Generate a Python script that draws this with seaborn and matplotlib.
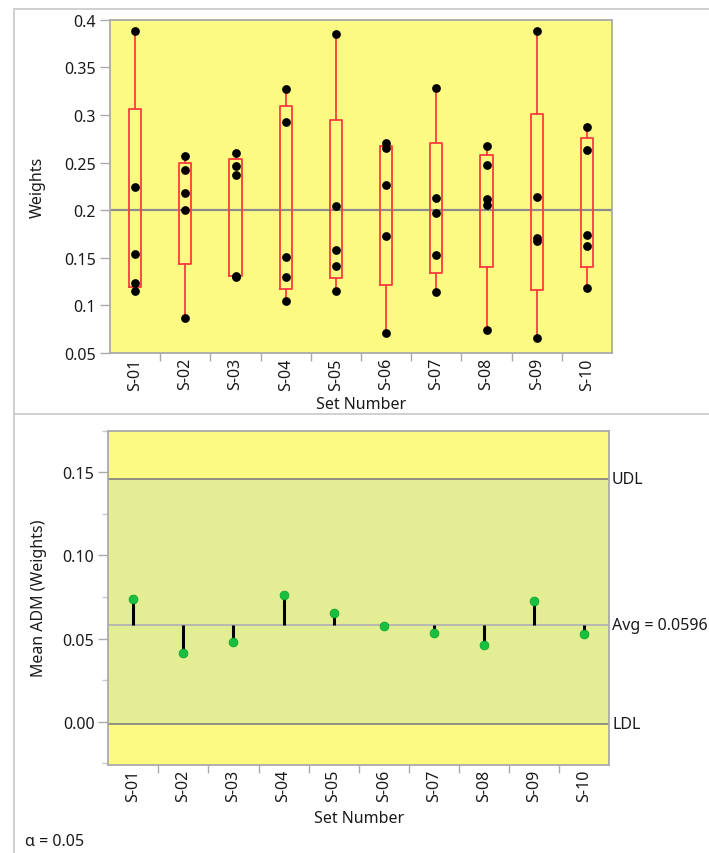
import numpy as np
import pandas as pd
import matplotlib
matplotlib.use("Agg")
import matplotlib.pyplot as plt
from matplotlib.lines import Line2D
import seaborn as sns

# ---------------- data ----------------
sets = ["S-01", "S-02", "S-03", "S-04", "S-05", "S-06", "S-07", "S-08", "S-09", "S-10"]
w_s01 = [0.3885, 0.2240, 0.1537, 0.1239, 0.1151]
w_s02 = [0.2572, 0.2419, 0.2184, 0.2002, 0.0871]
w_s03 = [0.2597, 0.2467, 0.2373, 0.1312, 0.1296]
w_s04 = [0.3269, 0.2923, 0.1508, 0.1302, 0.1043]
w_s05 = [0.3850, 0.2041, 0.1585, 0.1417, 0.1148]
w_s06 = [0.2702, 0.2653, 0.2268, 0.1729, 0.0707]
w_s07 = [0.3283, 0.2125, 0.1974, 0.1533, 0.1138]
w_s08 = [0.2674, 0.2474, 0.2114, 0.2051, 0.0745]
w_s09 = [0.3878, 0.2138, 0.1708, 0.1673, 0.0655]
w_s10 = [0.2873, 0.2632, 0.1739, 0.1624, 0.1183]
weights = [w_s01, w_s02, w_s03, w_s04, w_s05, w_s06, w_s07, w_s08, w_s09, w_s10]
grand_mean = 0.2

mean_adm = [0.0740, 0.0412, 0.0478, 0.0761, 0.0656, 0.0576, 0.0536, 0.0460, 0.0725, 0.0528]
center_line = 0.0582
avg_label = "Avg = 0.0596"
udl = 0.1458
ldl = -0.0012
alpha_text = "α = 0.05"

y1_ticks = [0.05, 0.1, 0.15, 0.2, 0.25, 0.3, 0.35, 0.4]
y1_labels = ["0.05", "0.1", "0.15", "0.2", "0.25", "0.3", "0.35", "0.4"]
y2_ticks = [0.0, 0.05, 0.10, 0.15]
y2_labels = ["0.00", "0.05", "0.10", "0.15"]
y2_minor = [-0.025, 0.025, 0.075, 0.125, 0.175]

# ---------------- style ----------------
sns.set_theme(style="white")
plt.rcParams["font.family"] = ["Noto Sans", "DejaVu Sans"]
plt.rcParams["font.size"] = 10

YELLOW = "#FDFA84"
GREENY = "#E3EE94"
SPINE = "#AAAAAA"
TXT = "#1a1a1a"
FS = 11.5

fig = plt.figure(figsize=(7.09, 8.54), dpi=100)
W, H = 709, 854

def frac(x0, y0, x1, y1):
    return [x0 / W, 1 - y1 / H, (x1 - x0) / W, (y1 - y0) / H]

ax1 = fig.add_axes(frac(110, 20.7, 612, 354))
ax2 = fig.add_axes(frac(108.3, 431.5, 609, 765.7))

# frame decoration (JMP outline)
for ln in [
    Line2D([14 / W, 14 / W], [0, 1 - 10 / H]),
    Line2D([14 / W, 1], [1 - 10 / H, 1 - 10 / H]),
    Line2D([14 / W, 1], [1 - 415 / H, 1 - 415 / H]),
]:
    ln.set_color("#C8C8C8")
    ln.set_linewidth(1.2)
    ln.set_transform(fig.transFigure)
    fig.add_artist(ln)

# ---------------- top panel ----------------
df = pd.DataFrame({
    "Set Number": np.repeat(sets, [len(w) for w in weights]),
    "Weights": np.concatenate(weights),
})

ax1.set_facecolor(YELLOW)
stats = []
for name, w in zip(sets, weights):
    arr = np.asarray(w)
    q1, med, q3 = np.percentile(arr, [25, 50, 75], method="weibull")
    stats.append(dict(label=name, med=med, q1=q1, q3=q3,
                      whislo=arr.min(), whishi=arr.max(), fliers=[]))
ax1.bxp(stats, positions=range(len(sets)), widths=0.24, showfliers=False,
        showcaps=False, patch_artist=False,
        boxprops=dict(color="#FF3B3B", linewidth=1.3),
        whiskerprops=dict(color="#FF3B3B", linewidth=1.3),
        medianprops=dict(linewidth=0),
        zorder=2)
ax1.axhline(grand_mean, color="#8C8C8C", linewidth=1.6, zorder=1.5)
sns.stripplot(data=df, x="Set Number", y="Weights", order=sets, jitter=False,
              color="black", size=6.3, linewidth=0, ax=ax1, zorder=3)

ax1.set_xlim(-0.5, len(sets) - 0.5)
ax1.set_ylim(0.05, 0.4)
ax1.set_yticks(y1_ticks)
ax1.set_yticklabels(y1_labels)

# ---------------- bottom panel ----------------
ax2.set_facecolor(YELLOW)
ax2.axhspan(ldl, udl, color=GREENY, zorder=0, linewidth=0)
ax2.axhline(udl, color="#7F7F7F", linewidth=1.2, zorder=1)
ax2.axhline(ldl, color="#7F7F7F", linewidth=1.2, zorder=1)
ax2.axhline(center_line, color="#B4B4B4", linewidth=1.3, zorder=1)
xpos = np.arange(len(sets))
ax2.vlines(xpos, center_line, mean_adm, color="black", linewidth=2.2, zorder=2)
adm_df = pd.DataFrame({"Set Number": sets, "Mean ADM": mean_adm})
sns.scatterplot(data=adm_df, x=xpos, y="Mean ADM", color="#19C040",
                edgecolor="#0FA832", linewidth=0.6, s=40, ax=ax2, zorder=3)

ax2.set_xlim(-0.5, len(sets) - 0.5)
ax2.set_ylim(-0.0258, 0.1743)
ax2.set_yticks(y2_ticks)
ax2.set_yticklabels(y2_labels)
ax2.set_yticks(y2_minor, minor=True)

ax2.text(1.006, udl, "UDL", transform=ax2.get_yaxis_transform(), va="center",
         ha="left", fontsize=FS, color=TXT)
ax2.text(1.006, center_line, avg_label, transform=ax2.get_yaxis_transform(),
         va="center", ha="left", fontsize=FS, color=TXT)
ax2.text(1.006, ldl, "LDL", transform=ax2.get_yaxis_transform(), va="center",
         ha="left", fontsize=FS, color=TXT)
fig.text(25 / W, 1 - 842 / H, alpha_text, fontsize=FS, color=TXT,
         ha="left", va="center")

# ---------------- shared axis styling ----------------
for ax, ylabel in [(ax1, "Weights"), (ax2, "Mean ADM (Weights)")]:
    for sp in ax.spines.values():
        sp.set_color(SPINE)
        sp.set_linewidth(1.3)
    ax.set_xticks(np.arange(len(sets)))
    ax.set_xticklabels(sets, rotation=90, fontsize=FS, color=TXT)
    ax.set_xticks(np.arange(len(sets) - 1) + 0.5, minor=True)
    ax.tick_params(axis="x", which="major", length=0, pad=3)
    ax.tick_params(axis="x", which="minor", length=6, width=1, color=SPINE,
                   direction="out", bottom=True)
    ax.tick_params(axis="y", which="major", length=7, width=1, color=SPINE,
                   direction="out", left=True, labelsize=FS, labelcolor=TXT, pad=3)
    ax.tick_params(axis="y", which="minor", length=4, width=1, color="#C8C8C8",
                   direction="out", left=True)
    ax.set_xlabel("Set Number", fontsize=FS, color=TXT, labelpad=6)
    ax.set_ylabel(ylabel, fontsize=FS, color=TXT)

ax1.xaxis.labelpad = 5
ax1.yaxis.set_label_coords(-0.127, 0.5)
ax2.yaxis.set_label_coords(-0.122, 0.5)

fig.savefig("out.png", dpi=100, facecolor="white")
